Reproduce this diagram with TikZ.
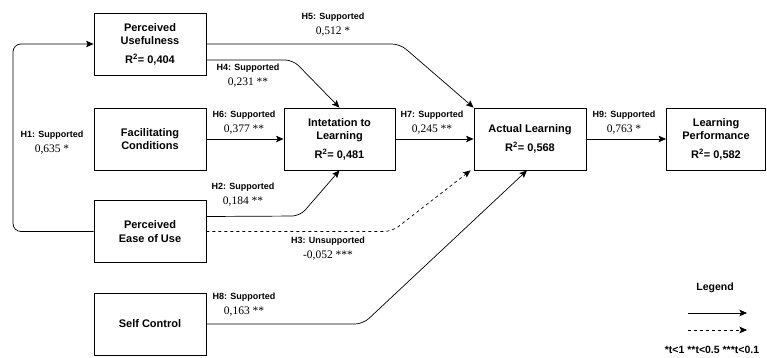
\documentclass[tikz,border=0pt]{standalone}
\usepackage{fontspec}
\setmainfont{Liberation Serif}
\setsansfont{Liberation Sans}
\usetikzlibrary{arrows.meta}

\tikzset{
  construct/.style={draw, line width=0.8pt, minimum width=112pt, minimum height=62pt,
    align=center, inner sep=2pt, font=\sffamily\bfseries\fontsize{11}{13.5}\selectfont},
  link/.style={draw, line width=0.7pt, rounded corners=8pt, -{Stealth[length=7.5pt,width=6.5pt,inset=1.5pt]}},
  weak/.style={link, dashed},
  hyp/.style={align=center, inner sep=0pt, font=\fontsize{9}{15}\selectfont},
  note/.style={inner sep=0pt, font=\sffamily\bfseries\fontsize{10.5}{12}\selectfont}
}
\newcommand{\hyptext}[2]{{\sffamily\bfseries #1}\\{\fontsize{11.5}{15}\selectfont #2}}

\begin{document}
\begin{tikzpicture}[x=1pt,y=-1pt]
  \useasboundingbox (0,0) rectangle (767,358);

  % constructs
  \node[construct] (pu)  at (150,44)    {Perceived\\Usefulness\\[5pt]R\textsuperscript{2}= 0,404};
  \node[construct] (fc)  at (150,139)   {Facilitating\\Conditions};
  \node[construct] (peu) at (150,231.5) {Perceived\\Ease of Use};
  \node[construct] (sc)  at (150,324)   {Self Control};
  \node[construct, minimum width=111pt] (il) at (339.5,139)
        {Intetation to\\Learning\\[5pt]R\textsuperscript{2}= 0,481};
  \node[construct] (al)  at (530,139)   {Actual Learning\\[5pt]R\textsuperscript{2}= 0,568};
  \node[construct, minimum width=99pt] (lp) at (716,139)
        {Learning\\Performance\\[5pt]R\textsuperscript{2}= 0,582};

  % paths
  \draw[link] (peu.west) -- (13,231.5) |- (pu.west);
  \draw[link] (pu.east) -- (400,44) -- (al.north west);
  \draw[link] ([yshift=-16pt]pu.east) -- (293,60) -- (il.north);
  \draw[link] (fc) -- (il);
  \draw[link] ([yshift=15pt]peu.east) -- (300,216) -- (il.south);
  \draw[weak] (peu.east) -- (392,231.5) -- ([xshift=-3pt]al.south west);
  \draw[link] (il) -- (al);
  \draw[link] (sc.east) -- (363,324) -- ([xshift=-3pt]al.south);
  \draw[link] (al) -- (lp);

  % path coefficients
  \node[hyp] (h1) at (52,143)  {\hyptext{H1: Supported}{0,635 *}};
  \node[hyp] (h2) at (243,195) {\hyptext{H2: Supported}{0,184 **}};
  \node[hyp] (h3) at (328,249) {\hyptext{H3: Unsupported}{-0,052 ***}};
  \node[hyp] (h4) at (248,76)  {\hyptext{H4: Supported}{0,231 **}};
  \node[hyp] (h5) at (333,25)  {\hyptext{H5: Supported}{0,512 *}};
  \node[hyp] (h6) at (244,123) {\hyptext{H6: Supported}{0,377 **}};
  \node[hyp] (h7) at (432,123) {\hyptext{H7: Supported}{0,245 **}};
  \node[hyp] (h8) at (244,305) {\hyptext{H8: Supported}{0,163 **}};
  \node[hyp] (h9) at (624,123) {\hyptext{H9: Supported}{0,763 *}};

  % legend
  \node[note] (legend) at (715,288) {Legend};
  \coordinate (solida) at (688,313);
  \coordinate (solidb) at (747,313);
  \coordinate (dasha)  at (688,330);
  \coordinate (dashb)  at (747,330);
  \draw[link] (solida) -- (solidb);
  \draw[weak] (dasha) -- (dashb);
  \node[note] (levels) at (712,350) {*t<1 **t<0.5 ***t<0.1};
\end{tikzpicture}
\end{document}
